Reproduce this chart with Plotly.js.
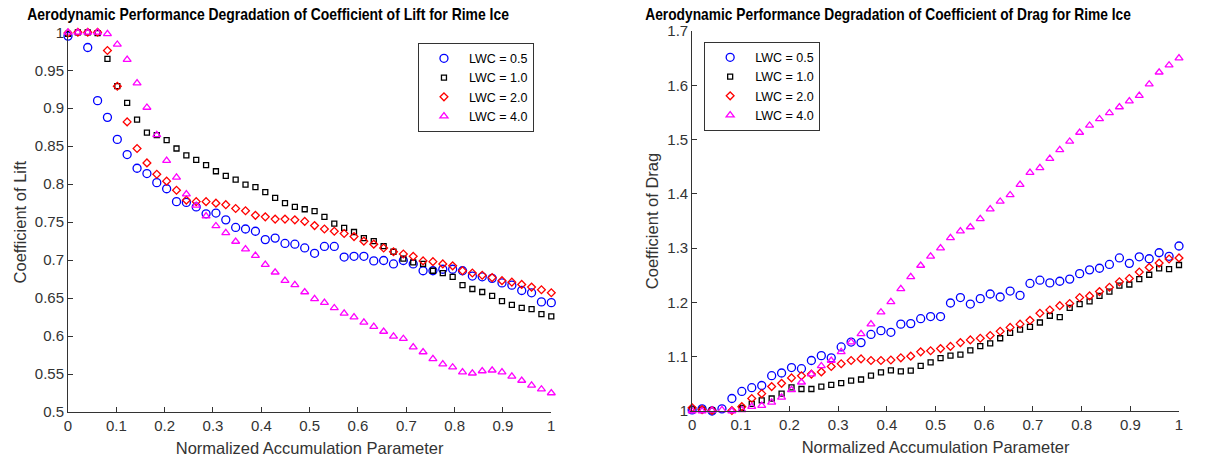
<!DOCTYPE html>
<html>
<head>
<meta charset="utf-8">
<script src="https://cdn.plot.ly/plotly-3.0.1.min.js"></script>
<style>html,body{margin:0;padding:0;background:#fff;}#plot{width:1225px;height:459px;}</style>
</head>
<body>
<div id="plot"></div>
<script>
// ---- data ----
const xParam = [0, 0.0204, 0.0408, 0.0612, 0.0816, 0.1020, 0.1224, 0.1429, 0.1633, 0.1837,
  0.2041, 0.2245, 0.2449, 0.2653, 0.2857, 0.3061, 0.3265, 0.3469, 0.3673, 0.3878,
  0.4082, 0.4286, 0.4490, 0.4694, 0.4898, 0.5102, 0.5306, 0.5510, 0.5714, 0.5918,
  0.6122, 0.6327, 0.6531, 0.6735, 0.6939, 0.7143, 0.7347, 0.7551, 0.7755, 0.7959,
  0.8163, 0.8367, 0.8571, 0.8776, 0.8980, 0.9184, 0.9388, 0.9592, 0.9796, 1.0];

const seriesNames = ['LWC = 0.5', 'LWC = 1.0', 'LWC = 2.0', 'LWC = 4.0'];

const liftLWC05 = [0.995, 1.002, 0.980, 0.910, 0.888, 0.859, 0.839, 0.821, 0.814, 0.802,
  0.794, 0.777, 0.776, 0.770, 0.761, 0.762, 0.753, 0.743, 0.741, 0.738,
  0.727, 0.729, 0.722, 0.721, 0.716, 0.709, 0.718, 0.718, 0.704, 0.705,
  0.705, 0.699, 0.6995, 0.695, 0.6995, 0.695, 0.686, 0.686, 0.688, 0.688,
  0.686, 0.679, 0.678, 0.676, 0.670, 0.667, 0.660, 0.657, 0.645, 0.644];
const liftLWC10 = [0.998, 1.000, 1.000, 0.999, 0.965, 0.929, 0.907, 0.885, 0.868, 0.8645,
  0.858, 0.847, 0.838, 0.832, 0.825, 0.817, 0.811, 0.806, 0.7995, 0.796,
  0.7895, 0.782, 0.775, 0.770, 0.767, 0.7645, 0.757, 0.748, 0.7425, 0.737,
  0.729, 0.725, 0.7185, 0.711, 0.702, 0.697, 0.695, 0.686, 0.683, 0.678,
  0.667, 0.662, 0.658, 0.653, 0.646, 0.641, 0.637, 0.6355, 0.629, 0.626];
const liftLWC20 = [0.999, 1.000, 1.000, 1.000, 0.976, 0.929, 0.882, 0.847, 0.828, 0.813,
  0.804, 0.792, 0.779, 0.777, 0.777, 0.775, 0.773, 0.768, 0.765, 0.759,
  0.757, 0.754, 0.754, 0.753, 0.751, 0.7455, 0.741, 0.738, 0.735, 0.731,
  0.725, 0.721, 0.716, 0.711, 0.708, 0.705, 0.699, 0.698, 0.695, 0.6925,
  0.686, 0.683, 0.680, 0.677, 0.673, 0.671, 0.668, 0.6645, 0.661, 0.657];
const liftLWC40 = [1.000, 1.000, 1.000, 1.000, 0.998, 0.984, 0.964, 0.933, 0.901, 0.865,
  0.831, 0.809, 0.787, 0.772, 0.758, 0.745, 0.736, 0.7245, 0.7145, 0.706,
  0.694, 0.684, 0.673, 0.6675, 0.658, 0.649, 0.644, 0.637, 0.630, 0.625,
  0.618, 0.6125, 0.606, 0.5995, 0.5965, 0.5855, 0.579, 0.570, 0.563, 0.559,
  0.5525, 0.551, 0.554, 0.555, 0.5525, 0.547, 0.5415, 0.535, 0.530, 0.525];

const dragLWC05 = [1.002, 1.004, 1.000, 1.004, 1.023, 1.036, 1.043, 1.047, 1.065, 1.070,
  1.080, 1.078, 1.093, 1.102, 1.098, 1.118, 1.127, 1.126, 1.141, 1.148,
  1.145, 1.160, 1.161, 1.170, 1.174, 1.174, 1.199, 1.209, 1.197, 1.207,
  1.2155, 1.210, 1.221, 1.213, 1.235, 1.241, 1.236, 1.239, 1.243, 1.253,
  1.260, 1.263, 1.270, 1.282, 1.272, 1.284, 1.2805, 1.2915, 1.285, 1.304];
const dragLWC10 = [1.003, 1.0025, 1.001, 0.999, 0.9975, 1.0055, 1.013, 1.0195, 1.023, 1.032,
  1.0435, 1.0405, 1.0405, 1.045, 1.048, 1.0515, 1.056, 1.058, 1.065, 1.071,
  1.075, 1.073, 1.0745, 1.083, 1.0895, 1.0976, 1.102, 1.104, 1.1116, 1.1197,
  1.1245, 1.134, 1.144, 1.150, 1.155, 1.163, 1.1755, 1.173, 1.190, 1.197,
  1.202, 1.212, 1.220, 1.231, 1.233, 1.243, 1.251, 1.2626, 1.2615, 1.269];
const dragLWC20 = [1.006, 1.0025, 1.001, 0.996, 1.001, 1.008, 1.023, 1.032, 1.045, 1.051,
  1.061, 1.065, 1.068, 1.072, 1.082, 1.087, 1.093, 1.096, 1.093, 1.093,
  1.094, 1.098, 1.101, 1.109, 1.111, 1.115, 1.119, 1.126, 1.131, 1.134,
  1.139, 1.147, 1.154, 1.160, 1.167, 1.180, 1.186, 1.194, 1.198, 1.209,
  1.212, 1.220, 1.228, 1.238, 1.244, 1.256, 1.2645, 1.2725, 1.280, 1.282];
const dragLWC40 = [1.000, 1.000, 1.001, 1.002, 1.000, 1.002, 1.008, 1.010, 1.016, 1.025,
  1.039, 1.053, 1.068, 1.083, 1.093, 1.109, 1.127, 1.142, 1.160, 1.182,
  1.201, 1.225, 1.247, 1.268, 1.285, 1.300, 1.319, 1.3315, 1.339, 1.354,
  1.372, 1.386, 1.398, 1.417, 1.439, 1.448, 1.465, 1.481, 1.4965, 1.513,
  1.526, 1.538, 1.549, 1.560, 1.571, 1.581, 1.602, 1.624, 1.637, 1.650];

const xTickVals = [0, 0.1, 0.2, 0.3, 0.4, 0.5, 0.6, 0.7, 0.8, 0.9, 1];
const xTickText = ['0', '0.1', '0.2', '0.3', '0.4', '0.5', '0.6', '0.7', '0.8', '0.9', '1'];
const liftTickVals = [0.5, 0.55, 0.6, 0.65, 0.7, 0.75, 0.8, 0.85, 0.9, 0.95, 1];
const liftTickText = ['0.5', '0.55', '0.6', '0.65', '0.7', '0.75', '0.8', '0.85', '0.9', '0.95', '1'];
const dragTickVals = [1, 1.1, 1.2, 1.3, 1.4, 1.5, 1.6, 1.7];
const dragTickText = ['1', '1.1', '1.2', '1.3', '1.4', '1.5', '1.6', '1.7'];

const liftTitle = 'Aerodynamic Performance Degradation of Coefficient of Lift for Rime Ice';
const dragTitle = 'Aerodynamic Performance Degradation of Coefficient of Drag for Rime Ice';

// ---- styles ----
const FONT = 'Liberation Sans, Arial, Helvetica, sans-serif';
const AX = '#333333';
const styles = [
  {symbol: 'circle-open', size: 8, color: '#0000FF'},
  {symbol: 'square-open', size: 5, color: '#000000'},
  {symbol: 'diamond-open', size: 6, color: '#FF0000'},
  {symbol: 'triangle-up-open', size: 7, color: '#FF00FF'}
];

const liftSeries = [liftLWC05, liftLWC10, liftLWC20, liftLWC40];
const dragSeries = [dragLWC05, dragLWC10, dragLWC20, dragLWC40];

const data = [];
liftSeries.forEach((ys, i) => {
  data.push({
    type: 'scatter', mode: 'markers', x: xParam, y: ys, name: seriesNames[i],
    xaxis: 'x', yaxis: 'y', legend: 'legend', cliponaxis: false,
    marker: {symbol: styles[i].symbol, size: styles[i].size, color: styles[i].color,
             line: {color: styles[i].color, width: 1.3}}
  });
});
dragSeries.forEach((ys, i) => {
  data.push({
    type: 'scatter', mode: 'markers', x: xParam, y: ys, name: seriesNames[i],
    xaxis: 'x2', yaxis: 'y2', legend: 'legend2', cliponaxis: false,
    marker: {symbol: styles[i].symbol, size: styles[i].size, color: styles[i].color,
             line: {color: styles[i].color, width: 1.3}}
  });
});

function xAxis(domain, anchor) {
  return {
    domain: domain, anchor: anchor, range: [0, 1], showgrid: false, zeroline: false,
    showline: true, linecolor: AX, linewidth: 1, mirror: false,
    ticks: 'inside', ticklen: 5, tickcolor: AX, tickwidth: 1,
    tickmode: 'array', tickvals: xTickVals, ticktext: xTickText,
    tickfont: {size: 15, color: AX, family: FONT},
    title: {text: 'Normalized Accumulation Parameter', font: {size: 16.5, color: AX, family: FONT}, standoff: 9}
  };
}
function yAxis(domain, anchor, range, vals, text, title) {
  return {
    domain: domain, anchor: anchor, range: range, showgrid: false, zeroline: false,
    showline: true, linecolor: AX, linewidth: 1, mirror: false,
    ticks: 'inside', ticklen: 5, tickcolor: AX, tickwidth: 1,
    tickmode: 'array', tickvals: vals, ticktext: text,
    tickfont: {size: 15, color: AX, family: FONT},
    title: {text: title, font: {size: 16.5, color: AX, family: FONT}, standoff: 4}
  };
}

const legendBase = {
  xanchor: 'left', yanchor: 'top', bgcolor: '#ffffff', bordercolor: AX, borderwidth: 1,
  font: {size: 12.5, color: '#000', family: FONT}, itemwidth: 40
};

const layout = {
  width: 1225, height: 459,
  margin: {l: 67.6, r: 46, t: 31, b: 46.7, pad: 0},
  paper_bgcolor: '#ffffff', plot_bgcolor: '#ffffff',
  font: {family: FONT, size: 15, color: AX},
  showlegend: true,
  xaxis: xAxis([0, 0.435], 'y'),
  yaxis: yAxis([0, 0.9966], 'x', [0.5, 1], liftTickVals, liftTickText, 'Coefficient of Lift'),
  xaxis2: xAxis([0.5618, 1], 'y2'),
  yaxis2: yAxis([0.0026, 1], 'x2', [1, 1.7], dragTickVals, dragTickText, 'Coefficient of Drag'),
  legend: Object.assign({x: 0.315, y: 0.9693}, legendBase),
  legend2: Object.assign({x: 0.5726, y: 0.9719}, legendBase),
  annotations: [
    {text: '<b>' + liftTitle + '</b>', xref: 'paper', yref: 'paper', x: 0.1803, y: 1.0445,
     xanchor: 'center', yanchor: 'middle', showarrow: false,
     font: {size: 16.5, color: '#000', family: FONT}},
    {text: '<b>' + dragTitle + '</b>', xref: 'paper', yref: 'paper', x: 0.7382, y: 1.0445,
     xanchor: 'center', yanchor: 'middle', showarrow: false,
     font: {size: 16.5, color: '#000', family: FONT}}
  ]
};

const titleWidths = [482, 486];

Plotly.newPlot('plot', data, layout, {staticPlot: true, displayModeBar: false}).then(function (gd) {
  const texts = gd.querySelectorAll('.annotation-text');
  texts.forEach(function (t, i) {
    try {
      const bb = t.getBBox();
      const cx = bb.x + bb.width / 2;
      const s = titleWidths[i] / bb.width;
      t.setAttribute('transform', 'translate(' + cx + ' 0) scale(' + s + ' 1) translate(' + (-cx) + ' 0)');
    } catch (e) {}
  });
});
</script>
</body>
</html>
